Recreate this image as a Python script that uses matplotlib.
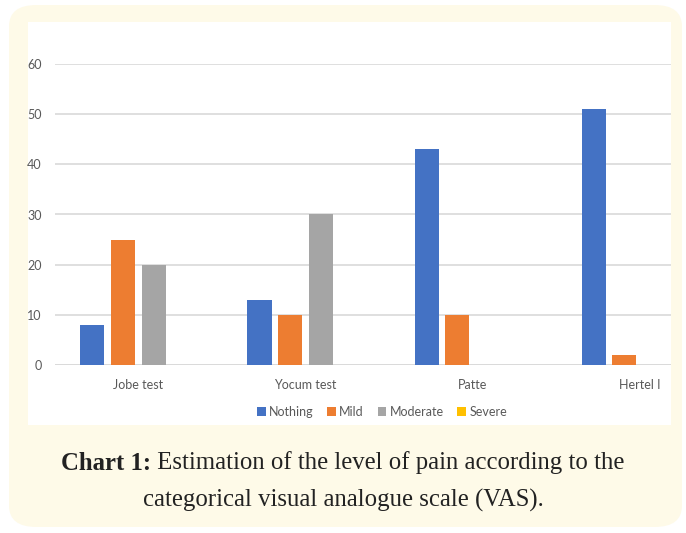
import matplotlib.pyplot as plt
import numpy as np
from matplotlib.patches import FancyBboxPatch, Rectangle

# data
categories = ['Jobe test', 'Yocum test', 'Patte', 'Hertel I']
series_names = ['Nothing', 'Mild', 'Moderate', 'Severe']
nothing = [8, 13, 43, 51]
mild = [25, 10, 10, 2]
moderate = [20, 30, 0, 0]
severe = [0, 0, 0, 0]
y_ticks = [0, 10, 20, 30, 40, 50, 60]

colors = ['#4472C4', '#ED7D31', '#A5A5A5', '#FFC000']
W, H = 686, 533

fig = plt.figure(figsize=(W / 100, H / 100), dpi=100)
fig.patch.set_facecolor('white')

# cream rounded frame
frame = FancyBboxPatch((9 / W, 6 / H), 673 / W, 522 / H,
                       boxstyle='round,pad=0,rounding_size=0.04',
                       transform=fig.transFigure, facecolor='#FEFAE8',
                       edgecolor='none', zorder=-3)
fig.patches.append(frame)

# white chart panel
panel = Rectangle((28 / W, (H - 425) / H), (671 - 28) / W, (425 - 22) / H,
                  transform=fig.transFigure, facecolor='white',
                  edgecolor='none', zorder=-2)
fig.patches.append(panel)

ax = fig.add_axes([55 / W, (H - 365) / H, (671 - 55) / W, (365 - 64) / H])
ax.set_facecolor('none')
ax.set_zorder(2)

x = np.arange(len(categories))
step = 0.184
width = 0.144
for i, (vals, name) in enumerate(zip([nothing, mild, moderate, severe], series_names)):
    ax.bar(x + (i - 1.5) * step, vals, width, color=colors[i], label=name,
           zorder=3)

ax.set_xlim(-0.5, 3.187)
ax.set_ylim(0, 60)
ax.set_yticks(y_ticks)
ax.set_xticks(x)
ax.set_xticklabels(categories)

ax.grid(axis='y', color='#D9D9D9', linewidth=1.2, zorder=0)
ax.set_axisbelow(True)
for s in ['top', 'right', 'left', 'bottom']:
    ax.spines[s].set_visible(False)
ax.axhline(0, color='#D9D9D9', linewidth=1.2, zorder=2)

ax.tick_params(axis='both', length=0, labelsize=9, labelcolor='#595959')
ax.tick_params(axis='y', pad=9.5)
ax.tick_params(axis='x', pad=10)
for lab in ax.get_xticklabels() + ax.get_yticklabels():
    lab.set_fontfamily('Lato')

leg = ax.legend(loc='center', bbox_to_anchor=(382 / W, (H - 412) / H),
                bbox_transform=fig.transFigure, ncol=4, frameon=False,
                prop={'family': 'Lato', 'size': 9}, handlelength=0.7,
                handleheight=0.7, handletextpad=0.25, columnspacing=1.1)
for t in leg.get_texts():
    t.set_color('#595959')

# caption: bold lead-in followed by regular text on the first line
cap_size = 17.8
bold_part = 'Chart 1:'
rest_part = ' Estimation of the level of pain according to the'
y1 = (H - 463) / H
t_bold = fig.text(0, y1, bold_part, ha='left', va='center', fontsize=cap_size,
                  family='Liberation Serif', weight='bold', color='#222222')
t_rest = fig.text(0, y1, rest_part, ha='left', va='center', fontsize=cap_size,
                  family='Liberation Serif', color='#222222')
fig.canvas.draw()
r = fig.canvas.get_renderer()
wb = t_bold.get_window_extent(r).width / W
wr = t_rest.get_window_extent(r).width / W
x0 = 0.5 - (wb + wr) / 2
t_bold.set_x(x0)
t_rest.set_x(x0 + wb)

fig.text(0.5, (H - 500) / H, 'categorical visual analogue scale (VAS).',
         ha='center', va='center', fontsize=cap_size, family='Liberation Serif',
         color='#222222')

plt.savefig('out.png', dpi=100, facecolor='white')
